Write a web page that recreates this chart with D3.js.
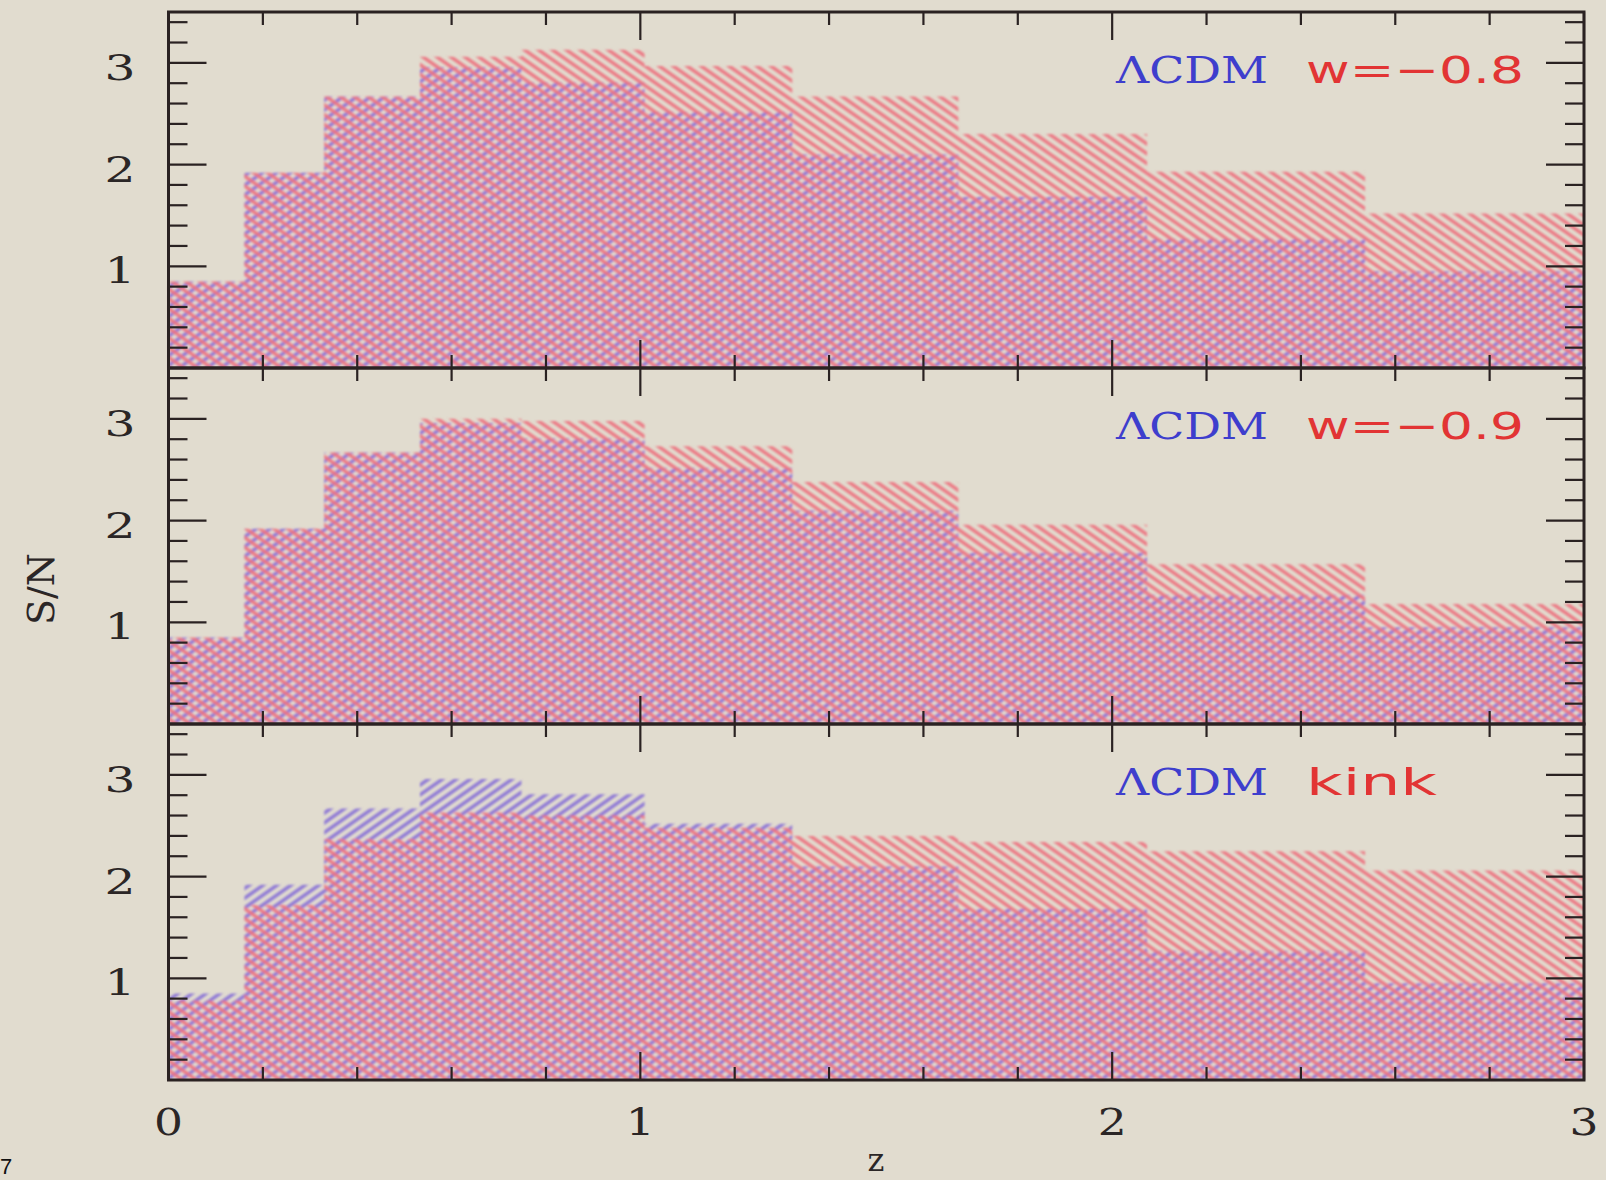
<!DOCTYPE html>
<html>
<head>
  <meta charset="UTF-8">
  <title>S/N vs z</title>
  <style>
    body { margin: 0; background: #e1dccf; }
  </style>
</head>
<body>
  <svg width="1606" height="1180"></svg>

  <script src="https://d3js.org/d3.v7.min.js"></script>
  <script>
    // redshift bin edges
    const binEdges = [0, 0.161, 0.330, 0.533, 0.748, 1.009, 1.322, 1.674, 2.074, 2.536, 3.0];

    // S/N per bin
    const lcdm = [0.85, 1.92, 2.67, 2.96, 2.81, 2.52, 2.10, 1.68, 1.27, 0.95];
    const wm08 = [0.85, 1.92, 2.67, 3.06, 3.13, 2.97, 2.67, 2.30, 1.93, 1.52];
    const wm09 = [0.85, 1.92, 2.67, 3.00, 2.98, 2.73, 2.38, 1.96, 1.57, 1.18];
    const kink = [0.78, 1.72, 2.37, 2.63, 2.60, 2.48, 2.40, 2.34, 2.25, 2.06];

    const altModels = [wm08, wm09, kink];
    const altLabels = ['w=\u22120.8', 'w=\u22120.9', 'kink'];
    const altLabelWidths = [218, 218, 131];

    const xTickLabels = ['0', '1', '2', '3'];
    const yTickLabels = ['1', '2', '3'];

    const svg = d3.select('svg');
    const W = 1606, H = 1180;

    svg.append('rect').attr('width', W).attr('height', H).attr('fill', '#e1dccf');

    // layout
    const plotLeft = 168.5, plotRight = 1584;
    const plotTop = 12, plotBottom = 1080;
    const panelH = (plotBottom - plotTop) / 3;

    const x = d3.scaleLinear().domain([0, 3]).range([plotLeft, plotRight]);

    // hatch patterns (soft, like the scanned original)
    const defs = svg.append('defs');
    defs.append('filter')
      .attr('id', 'soft')
      .attr('x', '-1%').attr('y', '-1%').attr('width', '102%').attr('height', '102%')
      .append('feGaussianBlur').attr('stdDeviation', 0.9);

    function hatch(id, color, angle) {
      const s = 8.0;
      const p = defs.append('pattern')
        .attr('id', id)
        .attr('patternUnits', 'userSpaceOnUse')
        .attr('width', s)
        .attr('height', s)
        .attr('patternTransform', `rotate(${angle})`);
      p.append('line')
        .attr('x1', s / 2).attr('y1', -1)
        .attr('x2', s / 2).attr('y2', s + 1)
        .attr('stroke', color)
        .attr('stroke-width', 3.4);
    }
    hatch('hatchRed', 'rgb(236,118,130)', -55);
    hatch('hatchBlue', 'rgb(140,118,214)', 55);

    function stepData(vals) {
      const pts = vals.map((v, i) => ({ z: binEdges[i], v: v }));
      pts.push({ z: binEdges[binEdges.length - 1], v: vals[vals.length - 1] });
      return pts;
    }

    const inkColor = '#2a2222';
    const textColor = '#2b2626';

    altModels.forEach((model, k) => {
      const pTop = plotTop + k * panelH;
      const pBot = pTop + panelH;
      const y = d3.scaleLinear().domain([0, 3.5]).range([pBot, pTop]);
      const g = svg.append('g');

      const area = d3.area()
        .x(d => x(d.z))
        .y0(y(0))
        .y1(d => y(d.v))
        .curve(d3.curveStepAfter);

      const hist = g.append('g').attr('filter', 'url(#soft)');

      // LCDM (blue) then alternative model (red) on top
      hist.append('path')
        .datum(stepData(lcdm))
        .attr('d', area)
        .attr('fill', 'url(#hatchBlue)');

      hist.append('path')
        .datum(stepData(model))
        .attr('d', area)
        .attr('fill', 'url(#hatchRed)');

      // x ticks, top and bottom
      const xTicks = d3.range(0, 16).map(i => i * 0.2);
      xTicks.forEach(t => {
        const major = Math.abs(t - Math.round(t)) < 1e-6;
        const len = major ? 28 : 13;
        g.append('line')
          .attr('x1', x(t)).attr('x2', x(t))
          .attr('y1', pBot).attr('y2', pBot - len)
          .attr('stroke', inkColor).attr('stroke-width', 2.2);
        g.append('line')
          .attr('x1', x(t)).attr('x2', x(t))
          .attr('y1', pTop).attr('y2', pTop + len)
          .attr('stroke', inkColor).attr('stroke-width', 2.2);
      });

      // y ticks, left and right
      const yTicks = d3.range(0, 18).map(i => i * 0.2);
      yTicks.forEach(t => {
        const major = Math.abs(t - Math.round(t)) < 1e-6;
        const len = major ? 38 : 19;
        g.append('line')
          .attr('x1', plotLeft).attr('x2', plotLeft + len)
          .attr('y1', y(t)).attr('y2', y(t))
          .attr('stroke', inkColor).attr('stroke-width', 2.2);
        g.append('line')
          .attr('x1', plotRight).attr('x2', plotRight - len)
          .attr('y1', y(t)).attr('y2', y(t))
          .attr('stroke', inkColor).attr('stroke-width', 2.2);
      });

      // y tick labels
      yTickLabels.forEach(lbl => {
        g.append('text')
          .attr('x', 120)
          .attr('y', y(+lbl) + 17)
          .attr('text-anchor', 'middle')
          .attr('font-family', 'DejaVu Serif')
          .attr('font-size', 36)
          .attr('fill', textColor)
          .attr('textLength', 31)
          .attr('lengthAdjust', 'spacingAndGlyphs')
          .text(lbl);
      });

      // panel frame
      g.append('rect')
        .attr('x', plotLeft).attr('y', pTop)
        .attr('width', plotRight - plotLeft).attr('height', panelH)
        .attr('fill', 'none')
        .attr('stroke', inkColor)
        .attr('stroke-width', 3);

      // model labels
      g.append('text')
        .attr('x', 1116)
        .attr('y', pTop + 71)
        .attr('font-family', 'DejaVu Serif')
        .attr('font-size', 38)
        .attr('fill', 'rgb(62,62,205)')
        .attr('textLength', 152)
        .attr('lengthAdjust', 'spacingAndGlyphs')
        .text('\u039BCDM');

      g.append('text')
        .attr('x', 1306)
        .attr('y', pTop + 71)
        .attr('font-family', 'DejaVu Sans')
        .attr('font-size', 38)
        .attr('fill', 'rgb(226,52,52)')
        .attr('textLength', altLabelWidths[k])
        .attr('lengthAdjust', 'spacingAndGlyphs')
        .text(altLabels[k]);
    });

    // x tick labels
    xTickLabels.forEach(lbl => {
      svg.append('text')
        .attr('x', x(+lbl))
        .attr('y', 1135)
        .attr('text-anchor', 'middle')
        .attr('font-family', 'DejaVu Serif')
        .attr('font-size', 37)
        .attr('fill', textColor)
        .attr('textLength', 29)
        .attr('lengthAdjust', 'spacingAndGlyphs')
        .text(lbl);
    });

    // axis labels
    svg.append('text')
      .attr('transform', 'translate(54, 589) rotate(-90)')
      .attr('text-anchor', 'middle')
      .attr('font-family', 'DejaVu Serif')
      .attr('font-size', 38)
      .attr('fill', textColor)
      .attr('textLength', 72)
      .attr('lengthAdjust', 'spacingAndGlyphs')
      .text('S/N');

    svg.append('text')
      .attr('x', 876)
      .attr('y', 1171)
      .attr('text-anchor', 'middle')
      .attr('font-family', 'DejaVu Serif')
      .attr('font-size', 32)
      .attr('fill', textColor)
      .text('z');

    // page number fragment
    svg.append('text')
      .attr('x', 0)
      .attr('y', 1174)
      .attr('font-family', 'Liberation Sans')
      .attr('font-size', 22)
      .attr('fill', '#111')
      .text('7');
  </script>
</body>
</html>
